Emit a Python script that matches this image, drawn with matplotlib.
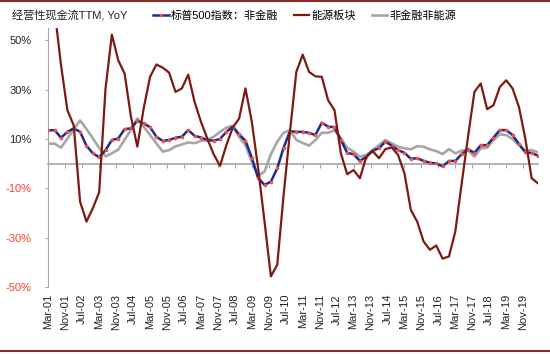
import numpy as np
import pandas as pd
import matplotlib
matplotlib.use("Agg")
import matplotlib.pyplot as plt
from matplotlib.lines import Line2D
from matplotlib.ticker import FuncFormatter

plt.rcParams["font.family"] = ["Liberation Sans", "Noto Sans CJK SC"]

# quarterly observations, Mar-01 .. Jun-20
dates = pd.date_range("2001-03-01", periods=78, freq="3MS")

sp500_nonfin = [13.5, 13.6, 10.5, 12.9, 14.3, 12.9, 7.3, 4.2, 2.6, 5.5,
                9.6, 10.2, 14.0, 14.3, 17.4, 16.3, 14.8, 10.9, 9.2, 9.6,
                10.5, 10.9, 13.6, 11.3, 10.6, 9.6, 9.3, 10.0, 12.9, 15.0,
                11.9, 9.3, 2.4, -5.9, -8.6, -7.3, -1.9, 6.5, 13.2, 12.9,
                12.9, 12.5, 11.6, 16.6, 15.0, 14.8, 9.6, 4.4, 3.8, 1.1,
                2.8, 5.3, 6.2, 8.9, 7.3, 5.5, 4.4, 2.0, 2.2, 1.1,
                0.4, 0.1, -1.1, 1.1, 1.1, 3.9, 5.8, 4.4, 7.5, 7.5,
                10.6, 13.6, 13.6, 11.6, 8.0, 4.6, 4.3, 3.2]

energy = [70.0, 62.0, 40.0, 21.7, 15.5, -15.4, -23.5, -18.1, -11.6, 30.5,
          52.3, 41.9, 36.5, 19.0, 6.9, 22.4, 35.2, 40.2, 38.9, 36.9,
          29.1, 30.5, 36.1, 25.1, 17.0, 10.2, 3.8, -0.9, 7.5, 14.6,
          18.3, 30.5, 17.0, -1.9, -23.5, -45.7, -41.0, -12.7, 12.9, 37.2,
          44.2, 37.2, 35.4, 35.2, 25.7, 21.7, 4.2, -4.3, -2.6, -5.9,
          2.8, 5.1, 2.2, 5.9, 6.6, 3.5, -3.9, -18.7, -23.5, -31.5,
          -34.9, -33.2, -38.5, -37.6, -27.5, -8.0, 11.0, 29.1, 32.5, 22.1,
          23.7, 31.1, 33.8, 30.5, 23.0, 10.2, -5.9, -8.0]

nonfin_nonenergy = [8.1, 8.1, 6.5, 10.1, 13.9, 17.5, 14.1, 10.3, 6.4, 3.0,
                    4.2, 5.7, 9.7, 13.7, 18.3, 15.0, 11.6, 8.2, 4.9, 5.5,
                    7.0, 7.8, 8.6, 8.3, 9.2, 9.7, 10.9, 12.9, 14.6, 15.4,
                    10.9, 7.5, 0.8, -4.9, -3.2, 3.8, 8.9, 12.5, 13.6, 9.6,
                    8.4, 7.3, 9.6, 12.5, 12.5, 13.6, 10.2, 6.5, 4.9, 2.8,
                    3.5, 5.5, 7.5, 9.6, 8.2, 6.9, 6.2, 5.8, 7.1, 6.9,
                    5.8, 5.1, 3.9, 5.9, 4.2, 5.3, 5.5, 2.8, 6.2, 6.5,
                    9.6, 11.9, 11.6, 10.0, 7.5, 5.3, 5.5, 4.6]

tick_dates = pd.date_range("2001-03-01", "2019-11-01", freq="8MS")
y_ticks = [-50, -30, -10, 10, 30, 50]

title = "经营性现金流TTM, YoY"
labels = ["标普500指数：非金融", "能源板块", "非金融非能源"]

# month offsets from Mar-01 (Excel-style date axis, month base unit)
def month_idx(d):
    return (d.year - 2001) * 12 + d.month - 3

x = month_idx(dates)
xt = month_idx(tick_dates)

fig = plt.figure(figsize=(5.5, 3.54), dpi=100)
ax = fig.add_axes([0.0878, 0.1893, 0.8904, 0.7316])

grey = "#A6A6A6"
h_gray, = ax.plot(x, nonfin_nonenergy, color=grey, lw=1.9, zorder=2)
h_blue, = ax.plot(x, sp500_nonfin, color="#1B2C8E", lw=1.8, marker="o",
                  markersize=2.6, markerfacecolor="#FF4D3A",
                  markeredgecolor="#FF4D3A", markeredgewidth=0, zorder=3)
h_red, = ax.plot(x, energy, color="#7D1A10", lw=1.6, zorder=4)

ax.set_xlim(0, x[-1])
ax.set_ylim(-50, 55)

for s in ["top", "right"]:
    ax.spines[s].set_visible(False)
ax.spines["left"].set_color(grey)
ax.spines["left"].set_linewidth(0.8)
ax.spines["bottom"].set_position(("data", 0))
ax.spines["bottom"].set_color(grey)
ax.spines["bottom"].set_linewidth(1.2)

ax.set_xticks(xt)
ax.tick_params(axis="x", length=3, width=0.8, color=grey, labelbottom=False)

ax.set_yticks(y_ticks)
ax.yaxis.set_major_formatter(FuncFormatter(lambda v, p: f"{v:.0f}%"))
ax.tick_params(axis="y", length=2, width=0.8, color=grey, pad=10, labelsize=8)
for lbl, v in zip(ax.get_yticklabels(), y_ticks):
    lbl.set_color("#FF3B30" if v < 0 else "#222222")

# date labels sit at the bottom of the plot, ticks stay on the zero line
sec = ax.secondary_xaxis("bottom")
sec.set_xticks(xt, [d.strftime("%b-%y") for d in tick_dates])
sec.tick_params(length=0, rotation=90, labelsize=8, pad=5, labelcolor="#222222")
sec.spines["bottom"].set_visible(False)

fig.text(12 / 550, 1 - 16 / 354, title, fontsize=8, va="center", color="#222222")
fig.legend([h_blue, h_red, h_gray], labels, loc="center left",
           bbox_to_anchor=(153 / 550, 1 - 16 / 354), bbox_transform=fig.transFigure,
           ncol=3, frameon=False, fontsize=8, handlelength=1.4, handletextpad=0.2,
           columnspacing=1.4, borderpad=0, borderaxespad=0, numpoints=1)

# report frame lines top and bottom
frame_c = "#8B2A1E"
fig.add_artist(Line2D([0, 1], [1 - 1 / 354, 1 - 1 / 354], color=frame_c, lw=1.5,
                      transform=fig.transFigure))
fig.add_artist(Line2D([0, 1], [3.5 / 354, 3.5 / 354], color=frame_c, lw=1.5,
                      transform=fig.transFigure))

fig.savefig("out.png", dpi=100)
